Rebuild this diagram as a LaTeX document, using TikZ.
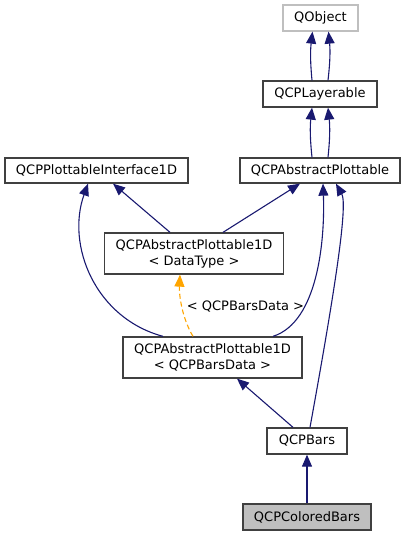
\documentclass[tikz,border=0pt]{standalone}
\usepackage{fontspec}
\setmainfont{DejaVu Sans}
\usetikzlibrary{arrows.meta, positioning, calc}
\definecolor{dxblue}{HTML}{191970}
\definecolor{dxedge}{HTML}{404040}
\definecolor{dxgrey}{HTML}{BFBFBF}
\definecolor{dxorange}{HTML}{FFA500}

\tikzset{
  cls/.style={draw=dxedge, line width=1.3pt, fill=white, inner sep=0pt,
              minimum height=26pt, align=center},
  extcls/.style={cls, draw=dxgrey},
  inherit/.style={dxblue, line width=1.1pt, -{Triangle[length=12pt, width=10pt]}},
  tmpl/.style={dxorange, line width=1.1pt, dashed, dash pattern=on 5pt off 3pt,
               -{Triangle[length=12pt, width=10pt]}}
}

\begin{document}
\begin{tikzpicture}[x=1pt, y=-1pt, font=\fontsize{13}{16}\selectfont]
  \useasboundingbox (0,0) rectangle (406,536);

  % classes
  \node[extcls, minimum width=75pt]  (qobj)  at (320.5,18)  {QObject};
  \node[cls, minimum width=114pt]    (lay)   at (320,94)    {QCPLayerable};
  \node[cls, minimum width=183pt, minimum height=25pt] (pi1d) at (96.5,170.5) {QCPPlottableInterface1D};
  \node[cls, minimum width=160pt, minimum height=25pt] (absp) at (320,170.5)  {QCPAbstractPlottable};
  \node[cls, minimum width=179pt, minimum height=41pt] (dt)   at (194,253.5)  {QCPAbstractPlottable1D\\< DataType >};
  \node[cls, minimum width=179pt, minimum height=41pt] (bd)   at (212.5,357.5) {QCPAbstractPlottable1D\\< QCPBarsData >};
  \node[cls, minimum width=80pt]     (bars)  at (307,441)   {QCPBars};
  \node[cls, minimum width=128pt, fill=dxgrey] (cbars) at (307,517) {QCPColoredBars};

  % double links up the QObject chain
  \foreach \lo/\hi in {lay/qobj, absp/lay} {
    \draw[inherit] ([xshift=-8pt]\lo.north) to[bend left=6]  ([xshift=-8pt]\hi.south);
    \draw[inherit] ([xshift=8pt]\lo.north)  to[bend right=6] ([xshift=8pt]\hi.south);}

  \draw[inherit] ([xshift=-24pt]dt.north) -- ([xshift=16.5pt]pi1d.south);
  \draw[inherit] ([xshift=29pt]dt.north)  -- ([xshift=-20pt]absp.south);
  \draw[inherit] ([xshift=-49.5pt]bd.north) .. controls (95,318) and (66,245) .. ([xshift=-8.5pt]pi1d.south);
  \draw[inherit] ([xshift=60.5pt]bd.north)  .. controls (318,322) and (325,240) .. ([xshift=3pt]absp.south);
  \draw[inherit] ([xshift=3pt]bars.north)   .. controls (335,290) and (348,205) .. ([xshift=16pt]absp.south);
  \draw[inherit] ([xshift=-14pt]bars.north) -- ([xshift=24.5pt]bd.south);
  \draw[inherit] (cbars.north) -- (bars.south);

  % template instantiation
  \draw[tmpl] ([xshift=-19.5pt]bd.north) .. controls (182,318) and (179,295) .. ([xshift=-14pt]dt.south)
    node[pos=0.5, right=1pt, black] {< QCPBarsData >};
\end{tikzpicture}
\end{document}
